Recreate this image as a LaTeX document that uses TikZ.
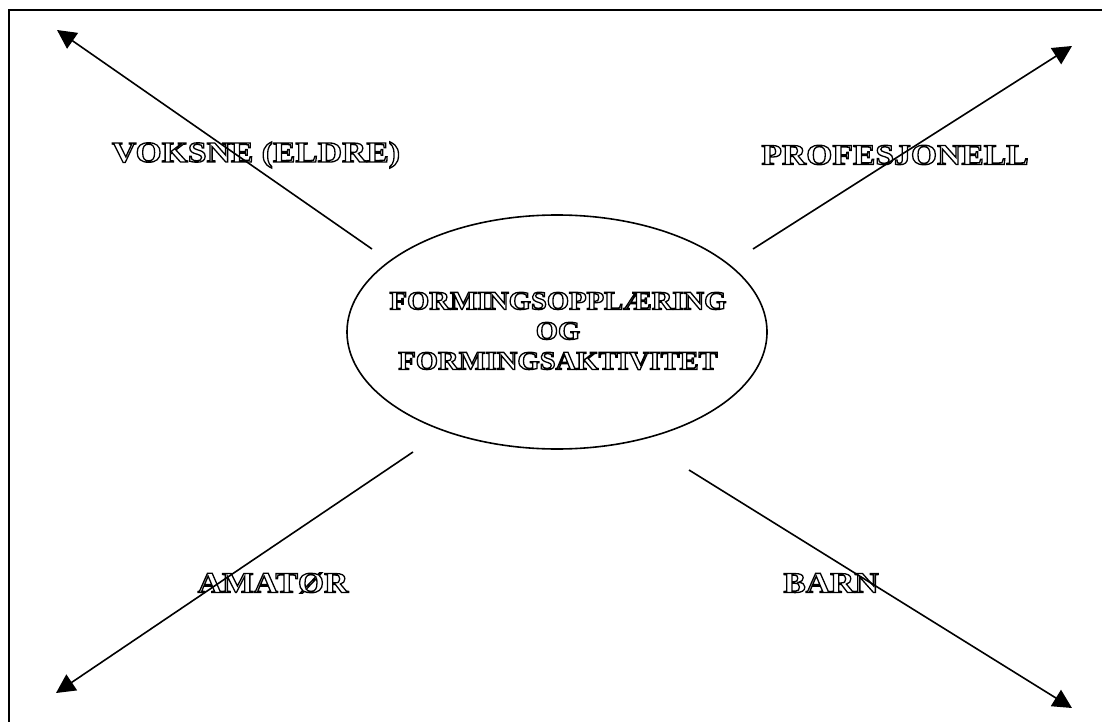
\documentclass[tikz,border=0pt]{standalone}
\usepackage{fontspec}
\setmainfont{Liberation Serif}
\newfontfamily\engrc[FakeStretch=1.10]{Liberation Serif Bold}
\newfontfamily\engrl[FakeStretch=1.16]{Liberation Serif Bold}
\usetikzlibrary{arrows.meta,shapes.geometric}
\newcommand\hollowtxt[1]{\special{pdf:literal 1 Tr 1.3 w}#1\special{pdf:literal 0 Tr}}
\begin{document}
\begin{tikzpicture}[x=1pt,y=-1pt,line width=1.6pt,
  arr/.style={line width=1.6pt,-{Triangle[length=19pt,width=19pt]}},
  lbl/.style={font=\engrl\fontsize{29}{30}\selectfont,inner sep=0pt},
  ctr/.style={font=\engrc\fontsize{26}{30}\selectfont,align=center,inner sep=0pt}]
\useasboundingbox (0,0) rectangle (1102,722);
% frame
\coordinate (fbl) at (9,722);
\coordinate (ftl) at (9,10);
\coordinate (ftr) at (1102,10);
\draw[line width=1.6pt] (fbl) -- (ftl) -- (ftr);
% centre ellipse
\node[ellipse,draw,line width=1.6pt,minimum width=420pt,minimum height=234pt,inner sep=0pt] (c) at (557,332) {};
\node[ctr] (ct) at (558,331) {\hollowtxt{FORMINGSOPPLÆRING}\\\hollowtxt{OG}\\\hollowtxt{FORMINGSAKTIVITET}};
% labels
\node[lbl] (voksne) at (256,155) {\hollowtxt{VOKSNE (ELDRE)}};
\node[lbl] (prof) at (895,155) {\hollowtxt{PROFESJONELL}};
\node[lbl] (amat) at (273,583) {\hollowtxt{AMATØR}};
\node[lbl] (barn) at (831,583) {\hollowtxt{BARN}};
% arrows
\coordinate (nw0) at (372,249); \coordinate (nw1) at (57,30);
\coordinate (ne0) at (753,249); \coordinate (ne1) at (1072,46);
\coordinate (sw0) at (413,452); \coordinate (sw1) at (56,693);
\coordinate (se0) at (689,470); \coordinate (se1) at (1072,708);
\draw[arr] (nw0) -- (nw1);
\draw[arr] (ne0) -- (ne1);
\draw[arr] (sw0) -- (sw1);
\draw[arr] (se0) -- (se1);
\end{tikzpicture}
\end{document}
